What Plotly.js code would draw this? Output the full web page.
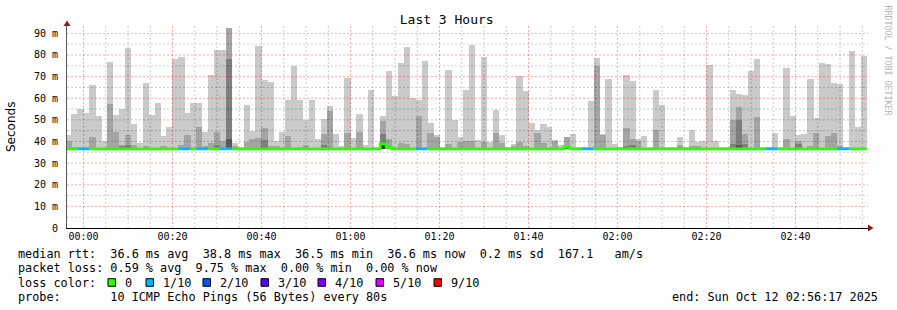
<!DOCTYPE html>
<html>
<head>
<meta charset="utf-8">
<script src="https://cdn.plot.ly/plotly-3.0.1.min.js"></script>
<style>html,body{margin:0;padding:0;background:#fff;}#chart{width:897px;height:310px;}</style>
</head>
<body>
<div id="chart"></div>
<script>
const _ = null;
// ---- DATA ----
const FIRST_SAMPLE = '2025-10-11 23:56:40';   // centre of first 80 s interval
const STEP_SECONDS = 80;
const RANGE_START = '2025-10-11 23:56:17';
const RANGE_END = '2025-10-12 02:56:17';
const MIN_RTT = 36.5;

// outermost smoke (max ping), ms
const smoke1 = [
 42.9,52.6,54.9,53.1,66.0,51.7,40.3,76.6,52.2,55.0,83.1,48.2,39.4,66.9,52.2,
 57.7,42.5,46.6,78.2,78.9,53.1,57.7,57.7,44.3,70.6,82.2,82.2,92.3,39.3,37.3,
 56.8,44.9,84.1,68.3,67.5,40.0,44.5,59.1,74.8,59.1,49.8,59.1,41.1,50.3,56.3,
 43.5,38.0,69.2,41.5,52.6,38.3,63.7,37.3,51.7,72.5,61.1,76.2,83.5,60.0,59.1,
 77.1,48.6,42.9,37.5,72.9,49.8,42.0,63.7,84.7,40.8,78.9,39.8,54.5,43.1,37.3,
 38.8,70.2,63.2,48.6,45.2,48.2,46.6,40.6,38.3,42.0,43.5,37.3,37.3,58.6,78.6,
 43.5,68.8,38.9,37.3,70.6,67.8,41.1,42.5,37.3,63.7,56.8,37.3,37.4,42.0,37.3,
 45.2,39.8,40.3,75.2,40.3,37.3,37.3,63.7,61.8,61.4,72.5,78.0,37.3,37.3,43.8,
 37.4,73.8,51.7,42.9,43.4,68.8,50.8,76.2,75.7,66.9,66.5,37.5,81.7,46.6,79.4];
// second smoke band
const smoke2 = [
 40.3,37.5,_,_,42.0,_,_,57.2,44.5,38.3,42.9,38.3,_,37.8,_,
 _,37.8,_,_,38.3,42.9,_,46.6,38.0,39.5,44.4,40.2,92.3,38.0,_,
 39.6,41.2,41.8,46.3,38.0,37.8,_,42.5,_,37.5,38.4,_,_,43.4,54.0,
 _,_,44.0,_,44.5,_,_,_,49.5,41.1,_,39.4,38.8,_,51.7,
 _,44.0,42.0,_,38.8,_,39.8,40.3,40.3,_,39.8,_,44.0,39.4,_,
 38.0,39.8,38.0,_,44.0,39.4,_,40.3,_,42.0,_,_,_,_,74.8,
 42.9,_,_,_,46.2,41.1,40.3,_,_,45.2,_,_,_,38.4,_,
 37.8,37.8,_,_,_,_,_,50.0,55.8,43.5,_,51.2,_,_,_,
 _,41.1,_,40.3,_,38.0,43.8,_,42.5,43.8,38.0,_,_,_,_];
// third smoke band
const smoke3 = [
 _,_,_,_,_,_,_,_,_,37.9,38.5,_,_,_,_,
 _,_,_,_,_,_,_,_,_,_,38.4,_,78.1,_,_,
 _,_,_,40.5,_,_,_,_,_,_,_,_,_,38.4,_,
 _,_,_,_,_,_,_,_,43.4,_,_,_,_,_,_,
 _,_,_,_,_,_,_,_,_,_,_,_,_,_,_,
 _,_,_,_,_,_,_,_,_,_,_,_,_,_,_,
 _,_,_,_,38.0,38.4,_,_,_,_,_,_,_,_,_,
 _,_,_,_,_,_,_,38.8,50.0,38.8,_,_,_,_,_,
 _,_,_,38.8,_,_,_,_,_,_,_,_,_,_,_];
// fourth smoke band
const smoke4 = [
 _,_,_,_,_,_,_,_,_,_,_,_,_,_,_,
 _,_,_,_,_,_,_,_,_,_,_,_,41.3,_,_,
 _,_,_,_,_,_,_,_,_,_,_,_,_,_,_,
 _,_,_,_,_,_,_,_,_,_,_,_,_,_,_,
 _,_,_,_,_,_,_,_,_,_,_,_,_,_,_,
 _,_,_,_,_,_,_,_,_,_,_,_,_,_,_,
 _,_,_,_,_,_,_,_,_,_,_,_,_,_,_,
 _,_,_,_,_,_,_,_,38.5,_,_,_,_,_,_,
 _,_,_,_,_,_,_,_,_,_,_,_,_,_,_];
// innermost smoke band
const smoke5 = [
 _,_,_,_,_,_,_,_,_,_,_,_,_,_,_,
 _,_,_,_,_,_,_,_,_,_,_,_,_,_,_,
 _,_,_,_,_,_,_,_,_,_,_,_,_,_,_,
 _,_,_,_,_,_,_,_,38.8,_,_,_,_,_,_,
 _,_,_,_,_,_,_,_,_,_,_,_,_,_,_,
 _,_,_,_,_,_,_,_,_,37.8,_,_,_,_,_,
 _,_,_,_,_,_,_,_,_,_,_,_,_,_,_,
 _,_,_,_,_,_,_,_,_,_,_,_,_,_,_,
 _,_,_,_,_,_,_,_,_,_,_,_,_,_,_];
// median rtt, ms
const median = [
 36.6,36.6,36.6,36.6,36.6,36.6,36.6,36.6,36.6,36.6,36.6,36.6,36.6,36.6,36.6,
 36.6,36.6,36.6,36.6,36.6,36.6,36.6,36.6,36.6,36.6,36.6,36.6,36.6,36.6,36.6,
 36.6,36.6,36.6,36.6,36.6,36.6,36.6,36.6,36.6,36.6,36.6,36.6,36.6,36.6,36.6,
 36.6,36.6,36.6,36.6,36.6,36.6,36.6,36.6,38.9,37.3,36.6,36.6,36.6,36.6,36.6,
 36.6,36.6,36.6,36.6,36.6,36.6,36.6,36.6,36.6,36.6,36.6,36.6,36.6,36.6,36.6,
 36.6,36.6,36.6,36.6,36.6,36.6,36.6,36.6,36.6,37.4,36.6,36.6,36.6,36.6,36.6,
 36.6,36.6,36.6,36.6,36.6,36.6,36.6,36.6,36.6,36.6,36.6,36.6,36.6,36.6,36.6,
 36.6,36.6,36.6,36.6,36.6,36.6,36.6,36.6,36.6,36.6,36.6,36.6,36.6,36.6,36.6,
 36.6,36.6,36.6,36.6,36.6,36.6,36.6,36.6,36.6,36.6,36.6,36.6,36.6,36.6,36.6];
// lost pings out of 10
const loss = [
 0,0,1,1,0,0,0,0,0,0,0,0,0,0,0,
 0,0,0,0,1,1,0,1,1,0,0,1,1,0,0,
 0,0,0,0,0,0,0,0,0,0,0,0,0,0,0,
 0,0,0,0,0,0,0,0,0,0,0,0,0,0,1,
 1,0,0,0,0,0,0,0,0,0,0,0,0,0,0,
 0,0,0,0,0,0,0,0,0,0,0,0,1,1,0,
 0,0,0,0,0,0,0,0,0,0,0,0,0,0,0,
 0,0,0,0,0,0,0,0,0,0,0,0,0,1,1,
 0,0,0,0,0,0,0,0,0,0,1,1,0,0,0];

const yTickVals = [0,10,20,30,40,50,60,70,80,90];
const yTickText = ['0','10 m','20 m','30 m','40 m','50 m','60 m','70 m','80 m','90 m'];
const lossLevels = [0,1,2,3,4,5,9];
const lossLabels = ['0','1/10','2/10','3/10','4/10','5/10','9/10'];
const lossColors = ['#26ff00','#00b8ff','#0059ff','#5e00ff','#7e00ff','#dd00ff','#ff0000'];
const legendLines = [
 'median rtt:  36.6 ms avg  38.8 ms max  36.5 ms min  36.6 ms now  0.2 ms sd  167.1   am/s',
 'packet loss: 0.59 % avg  9.75 % max  0.00 % min  0.00 % now',
 'loss color:',
 'probe:       10 ICMP Echo Pings (56 Bytes) every 80s'];
const endText = 'end: Sun Oct 12 02:56:17 2025';
const titleText = 'Last 3 Hours';
const yTitle = 'Seconds';
const watermark = 'RRDTOOL / TOBI OETIKER';

// ---- helpers ----
function pad(n){return (n<10?'0':'')+n;}
function parseT(s){const m=s.match(/(\d+)-(\d+)-(\d+) (\d+):(\d+):(\d+)/);return Date.UTC(+m[1],+m[2]-1,+m[3],+m[4],+m[5],+m[6]);}
function fmt(ms){const d=new Date(ms);return d.getUTCFullYear()+'-'+pad(d.getUTCMonth()+1)+'-'+pad(d.getUTCDate())+' '+pad(d.getUTCHours())+':'+pad(d.getUTCMinutes())+':'+pad(d.getUTCSeconds());}
const t0 = parseT(FIRST_SAMPLE);
const stepMs = STEP_SECONDS*1000;
const times = smoke1.map((v,i)=>fmt(t0+i*stepMs));

// layout geometry (pixels)
const W=897,H=310,PL=67,PR=868,PT=26,PB=228;
const px2x = p => (p-PL)/(PR-PL);
const px2y = p => (PB-p)/(PB-PT);
const YMAX = 93.4;

function smokeTrace(vals,color){
  return {type:'bar',x:times,base:vals.map(v=>v==null?null:MIN_RTT),
    y:vals.map(v=>v==null?null:v-MIN_RTT),width:stepMs*1.06,
    marker:{color:color,line:{width:0}},hoverinfo:'skip',showlegend:false};
}
const traces = [
  smokeTrace(smoke1,'#cacaca'),
  smokeTrace(smoke2,'#a4a4a4'),
  smokeTrace(smoke3,'#7e7e7e'),
  smokeTrace(smoke4,'#585858'),
  smokeTrace(smoke5,'#323232')
];

// grid lines (drawn over the smoke, as in rrdtool)
const rs=parseT(RANGE_START), re=parseT(RANGE_END);
function gridTrace(xs,ys,color){
  return {type:'scatter',mode:'lines',x:xs,y:ys,line:{color:color,width:1,dash:'2px,2px'},
    hoverinfo:'skip',showlegend:false,cliponaxis:true};
}
const hx=[],hy=[],hxr=[],hyr=[];
for(let v=5;v<YMAX;v+=5){
  const major = v%10===0;
  (major?hxr:hx).push(fmt(rs),fmt(re),null);
  (major?hyr:hy).push(v,v,null);
}
const vx=[],vy=[],vxr=[],vyr=[];
const g0 = parseT('2025-10-12 00:00:00');
for(let t=g0;t<re;t+=300000){
  const major = ((t-g0)/60000)%20===0;
  (major?vxr:vx).push(fmt(t),fmt(t),null);
  (major?vyr:vy).push(0,YMAX,null);
}
traces.push(gridTrace(hx,hy,'rgba(0,0,0,0.2)'));
traces.push(gridTrace(vx,vy,'rgba(0,0,0,0.2)'));
traces.push(gridTrace(hxr,hyr,'rgba(255,0,0,0.35)'));
traces.push(gridTrace(vxr,vyr,'rgba(255,0,0,0.35)'));

// median line coloured by loss (continuous runs, stepped)
lossLevels.forEach((lv,li)=>{
  const xs=[],ys=[];
  let inRun=false;
  median.forEach((m,i)=>{
    if(loss[i]===lv){
      const c=t0+i*stepMs;
      xs.push(fmt(c-stepMs/2),fmt(c+stepMs/2));
      ys.push(m,m);
      inRun=true;
    } else if(inRun){ xs.push(null); ys.push(null); inRun=false; }
  });
  if(xs.length) traces.push({type:'scatter',mode:'lines',x:xs,y:ys,
    line:{color:lossColors[li],width:2.8},hoverinfo:'skip',showlegend:false});
});

const mono='DejaVu Sans Mono';
const nb = s => s.replace(/ /g,'\u00a0');
const annotations=[];
const rowY=[254.3,268.3,282.5,296.7];
legendLines.forEach((t,i)=>{
  annotations.push({xref:'paper',yref:'paper',x:px2x(16),y:px2y(rowY[i]),xanchor:'left',yanchor:'middle',
    text:nb(t),showarrow:false,font:{family:mono,size:11.8,color:'#000'}});
});
annotations.push({xref:'paper',yref:'paper',x:px2x(880),y:px2y(rowY[3]),xanchor:'right',yanchor:'middle',
  text:nb(endText),showarrow:false,font:{family:mono,size:11.8,color:'#000'}});
const boxX=[108,146,203,261,318,376,434];
const shapes=[];
lossLabels.forEach((lab,i)=>{
  shapes.push({type:'rect',xref:'paper',yref:'paper',x0:px2x(boxX[i]),x1:px2x(boxX[i]+7.5),
    y0:px2y(rowY[2]+3.8),y1:px2y(rowY[2]-3.8),fillcolor:lossColors[i],line:{color:'#000',width:1}});
  annotations.push({xref:'paper',yref:'paper',x:px2x(boxX[i]+15),y:px2y(rowY[2]),xanchor:'left',yanchor:'middle',
    text:lab,showarrow:false,font:{family:mono,size:11.8,color:'#000'}});
});
annotations.push({xref:'paper',yref:'paper',x:px2x(11),y:px2y(127),xanchor:'center',yanchor:'middle',
  text:yTitle,textangle:-90,showarrow:false,font:{family:'DejaVu Sans',size:12,color:'#000'}});
annotations.push({xref:'paper',yref:'paper',x:px2x(887.5),y:px2y(60),xanchor:'center',yanchor:'middle',
  text:nb(watermark),textangle:90,showarrow:false,font:{family:mono,size:8.3,color:'#b4b4b4'}});

// axis arrows
shapes.push({type:'path',xref:'paper',yref:'paper',
  path:`M ${px2x(63.5)},${px2y(26)} L ${px2x(70.5)},${px2y(26)} L ${px2x(67)},${px2y(20.5)} Z`,
  fillcolor:'#8b1a1a',line:{width:0}});
shapes.push({type:'path',xref:'paper',yref:'paper',
  path:`M ${px2x(868)},${px2y(224.5)} L ${px2x(868)},${px2y(231.5)} L ${px2x(873.5)},${px2y(228)} Z`,
  fillcolor:'#8b1a1a',line:{width:0}});

const layout={
  width:W,height:H,margin:{l:PL,r:W-PR,t:PT,b:H-PB,pad:0},
  paper_bgcolor:'#fff',plot_bgcolor:'#fff',
  barmode:'overlay',bargap:0,showlegend:false,
  title:{text:titleText,font:{family:mono,size:13,color:'#000'},x:0.498,xanchor:'center',
    yref:'container',y:1-19.5/H,yanchor:'middle'},
  xaxis:{type:'date',range:[RANGE_START,RANGE_END],tickmode:'linear',tick0:'2025-10-12 00:00:00',
    dtick:1200000,tickformat:'%H:%M',showgrid:false,zeroline:false,showline:true,linecolor:'#000',
    linewidth:1,ticks:'',tickfont:{family:mono,size:10,color:'#000'},ticklabelstandoff:-1},
  yaxis:{range:[0,YMAX],tickmode:'array',tickvals:yTickVals,ticktext:yTickText,showgrid:false,
    zeroline:false,showline:true,linecolor:'#555',linewidth:1,ticks:'',
    tickfont:{family:mono,size:10,color:'#000'},ticklabelstandoff:6},
  annotations:annotations,shapes:shapes
};
Plotly.newPlot('chart',traces,layout,{staticPlot:true,displayModeBar:false});
</script>
</body>
</html>
